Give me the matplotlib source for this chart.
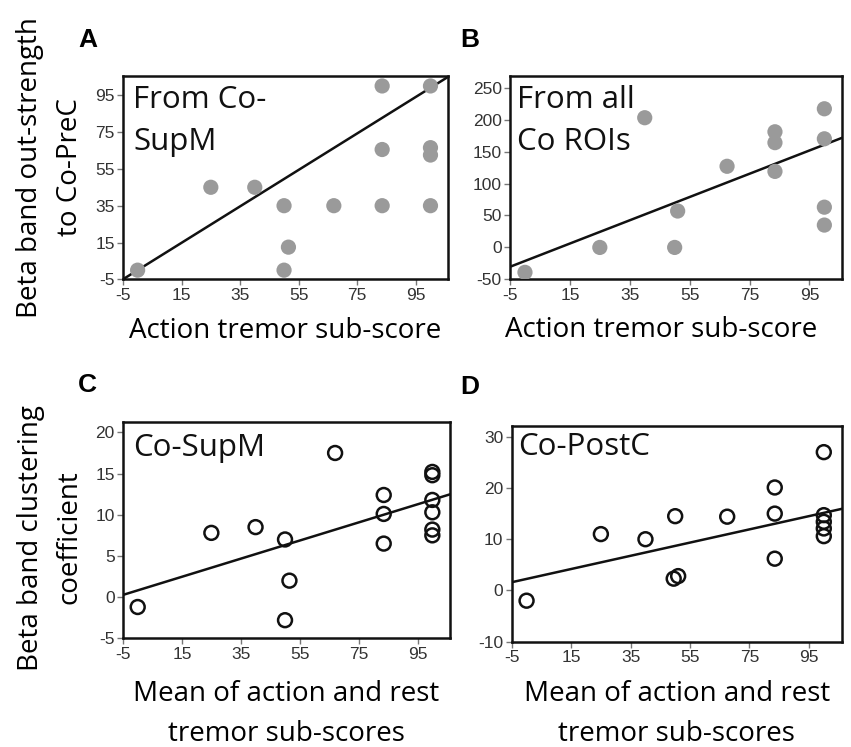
"""Four-panel scatter: tremor sub-scores vs beta band network measures."""
import numpy as np
import matplotlib
matplotlib.use("Agg")
import matplotlib.pyplot as plt

# panel A: out-strength from Co-SupM to Co-PreC
a_x = [0, 25, 40, 50, 51.5, 50, 67, 83.5, 83.5, 83.5, 100, 100, 100, 100]
a_y = [0, 45, 45, 35, 12.5, 0, 35, 35, 65.5, 100, 100, 66.5, 62.5, 35]
a_fit = (0.99, 0.0)  # slope, intercept

# panel B: out-strength from all Co ROIs to Co-PreC
b_x = [0, 25, 40, 51, 50, 67.5, 83.5, 83.5, 83.5, 100, 100, 100, 100]
b_y = [-39, 0, 203, 57, 0, 127, 181, 164, 119, 217, 170, 63, 35]
b_fit = (1.82, -21.2)

# panel C: clustering coefficient, Co-SupM
c_x = [0, 25, 40, 50, 51.5, 50, 67, 83.5, 83.5, 83.5, 100, 100, 100, 100, 100, 100]
c_y = [-1.2, 7.8, 8.5, 7.0, 2.0, -2.8, 17.5, 12.4, 10.1, 6.5, 15.2, 14.8, 11.8, 10.3, 8.2, 7.5]
c_fit = (0.11, 0.82)

# panel D: clustering coefficient, Co-PostC
d_x = [0, 25, 40, 50, 49.5, 51, 67.5, 83.5, 83.5, 83.5, 100, 100, 100, 100, 100]
d_y = [-2.0, 11.0, 10.0, 14.5, 2.3, 2.8, 14.4, 20.1, 15.0, 6.2, 27.0, 14.7, 13.4, 12.1, 10.6]
d_fit = (0.129, 2.25)

x_ticks = [-5, 15, 35, 55, 75, 95]
a_ticks = [-5, 15, 35, 55, 75, 95]
b_ticks = [-50, 0, 50, 100, 150, 200, 250]
c_ticks = [-5, 0, 5, 10, 15, 20]
d_ticks = [-10, 0, 10, 20, 30]

plt.rcParams["axes.unicode_minus"] = False
FONT = ["Open Sans", "DejaVu Sans"]
TICKFONT = ["Liberation Sans", "DejaVu Sans"]
FS = 20      # axis labels
FS_IN = 22.5  # in-panel titles

fig = plt.figure(figsize=(8.51, 7.47), dpi=100)
axA = fig.add_axes([0.1445, 0.626, 0.382, 0.272])
axB = fig.add_axes([0.5993, 0.626, 0.3905, 0.272])
axC = fig.add_axes([0.1445, 0.1455, 0.3843, 0.290])
axD = fig.add_axes([0.6013, 0.141, 0.3877, 0.2887])

panels = [
    (axA, a_x, a_y, a_fit, a_ticks, (-5, 105.3), "filled", "From Co-\nSupM", (0.031, 0.955)),
    (axB, b_x, b_y, b_fit, b_ticks, (-50, 268), "filled", "From all\nCo ROIs", (0.021, 0.955)),
    (axC, c_x, c_y, c_fit, c_ticks, (-5, 21.3), "open", "Co-SupM", (0.031, 0.95)),
    (axD, d_x, d_y, d_fit, d_ticks, (-10, 32.1), "open", "Co-PostC", (0.019, 0.97)),
]

for ax, xs, ys, fit, yt, ylim, style, inner, pos in panels:
    if style == "filled":
        ax.scatter(xs, ys, s=120, color="#9a9a9a", edgecolors="none", zorder=3)
    else:
        ax.scatter(xs, ys, s=100, facecolors="none", edgecolors="#111111", linewidths=1.8, zorder=3)
    ax.axline((0, fit[1]), slope=fit[0], color="#111111", lw=1.8, zorder=2)
    ax.set_xlim(-5, 106)
    ax.set_ylim(*ylim)
    ax.set_xticks(x_ticks)
    ax.set_yticks(yt)
    for sp in ax.spines.values():
        sp.set_linewidth(1.8)
        sp.set_color("#111111")
    ax.tick_params(direction="out", length=4, width=1, color="#777777", pad=2,
                   labelsize=12.5, labelcolor="#333333")
    for lab in ax.get_xticklabels() + ax.get_yticklabels():
        lab.set_family(TICKFONT)
    ax.text(pos[0], pos[1], inner, transform=ax.transAxes, ha="left", va="top",
            fontsize=FS_IN, family=FONT, linespacing=1.52, color="#111111")

for ax, lx, ly in ((axA, 0.5, -0.255), (axB, 0.456, -0.25)):
    ax.set_xlabel("Action tremor sub-score", fontsize=FS, family=FONT, va="center")
    ax.xaxis.set_label_coords(lx, ly)
for ax, ly in ((axC, -0.35), (axD, -0.336)):
    ax.set_xlabel("Mean of action and rest\ntremor sub-scores", fontsize=FS, family=FONT,
                  linespacing=1.6, va="center")
    ax.xaxis.set_label_coords(0.5, ly)

axA.set_ylabel("Beta band out-strength\nto Co-PreC", fontsize=FS, family=FONT,
               linespacing=1.58, va="center")
axA.yaxis.set_label_coords(-0.2246, 0.552)
axC.set_ylabel("Beta band clustering\ncoefficient", fontsize=FS, family=FONT,
               linespacing=1.52, va="center")
axC.yaxis.set_label_coords(-0.223, 0.465)

for letter, (x, y) in zip("ABCD", [(78, 40), (460, 40), (78, 385), (460, 387)]):
    fig.text(x / 851, 1 - y / 747, letter, fontsize=19, fontweight="bold",
             family=["Liberation Sans", "DejaVu Sans"], ha="left", va="center")

fig.savefig("out.png", dpi=100)
